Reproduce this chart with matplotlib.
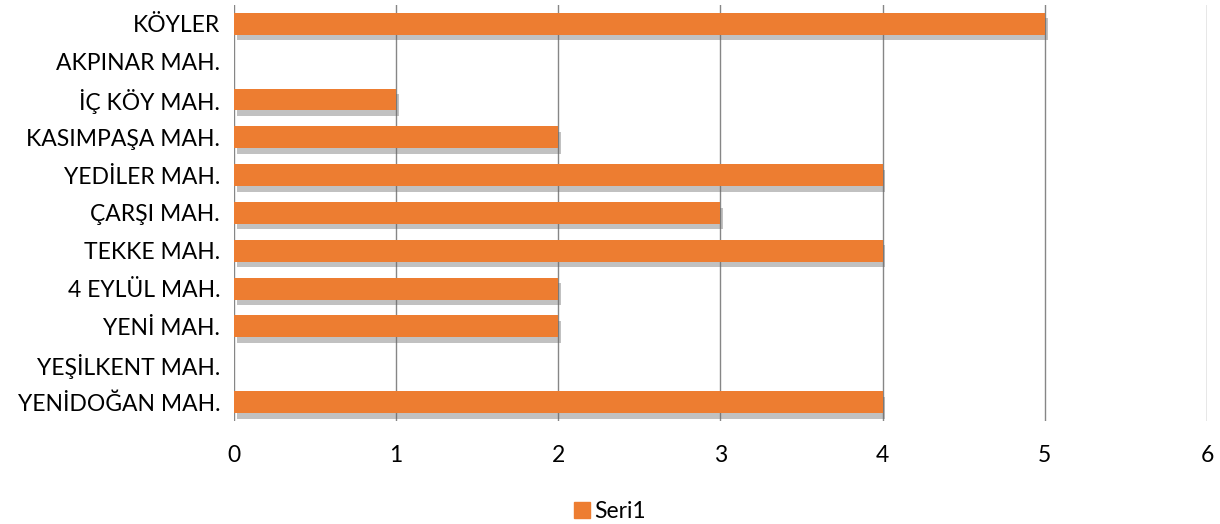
import matplotlib.pyplot as plt
import matplotlib.patheffects as pe

categories = ['YENİDOĞAN MAH.', 'YEŞİLKENT MAH.', 'YENİ MAH.', '4 EYLÜL MAH.',
              'TEKKE MAH.', 'ÇARŞI MAH.', 'YEDİLER MAH.', 'KASIMPAŞA MAH.',
              'İÇ KÖY MAH.', 'AKPINAR MAH.', 'KÖYLER']
seri1 = [4, 0, 2, 2, 4, 3, 4, 2, 1, 0, 5]
x_ticks = [0, 1, 2, 3, 4, 5, 6]

plt.rcParams['font.family'] = ['Lato', 'DejaVu Sans']

fig = plt.figure(figsize=(12.2, 5.24), dpi=100)
ax = fig.add_axes([0.1918, 0.1966, 0.7975, 0.794])

bars = ax.barh(range(len(categories)), seri1, height=0.58, color='#ED7D31', zorder=3)
for b in bars:
    b.set_path_effects([pe.SimplePatchShadow(offset=(2, -4), shadow_rgbFace='#666666', alpha=0.4),
                        pe.Normal()])

ax.set_xlim(0, 6)
ax.set_ylim(-0.5, len(categories) - 0.5)
ax.set_xticks(x_ticks)
ax.set_yticks(range(len(categories)))
ax.set_yticklabels(categories)
ax.grid(axis='x', color='#868686', linewidth=1, zorder=0)
for s in ax.spines.values():
    s.set_visible(False)
ax.tick_params(axis='both', length=0, labelsize=16.5, labelcolor='black')
ax.tick_params(axis='x', pad=17)
ax.tick_params(axis='y', pad=10)

handle = plt.Rectangle((0, 0), 1, 1, color='#ED7D31')
fig.legend([handle], ['Seri1'], loc='lower center', bbox_to_anchor=(0.5, -0.035), frameon=False,
           fontsize=16.5, handlelength=0.7, handleheight=0.7, handletextpad=0.2)

plt.savefig('out.png')
